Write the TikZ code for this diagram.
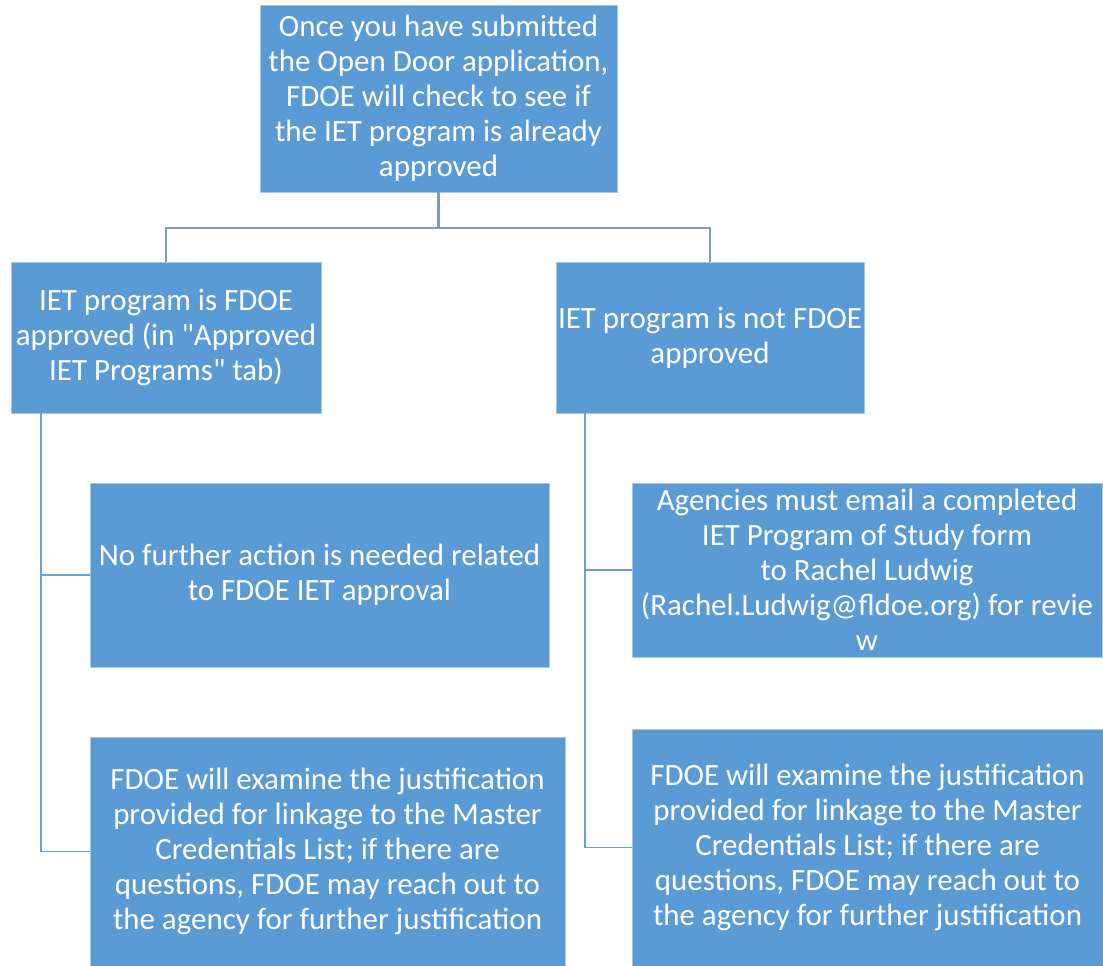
\documentclass[tikz,border=0pt]{standalone}
\usepackage{fontspec}
\setmainfont{Carlito}[Ligatures=TeXOff]
\definecolor{boxblue}{HTML}{5B9BD5}
\definecolor{treeline}{HTML}{7A9CC0}
\definecolor{sideline}{HTML}{6A9FD6}
\begin{document}
\begin{tikzpicture}
    [%%%%%%%%%%%%%%%%%%%%%%%%%%%%%%
        x=0.02cm, y=-0.02cm,
        box/.style={rectangle, fill=boxblue, draw=boxblue!55!white, line width=0.5pt,
            text=white, align=center, inner sep=0pt,
            font=\fontsize{17.6}{19.9}\selectfont},
        tree/.style={draw=treeline, line width=1.3pt},
        side/.style={draw=sideline, line width=1.1pt},
    ]%%%%%%%%%%%%%%%%%%%%%%%%%%%%%%
\useasboundingbox (0,0) rectangle (1103,966);
% top box
\node[box, minimum width=7.14cm, minimum height=3.74cm] (start) at (438.5,98.5)
    {Once you have submitted\\the Open Door application,\\FDOE will check to see if\\the IET program is already\\approved};
% second row
\node[box, minimum width=6.20cm, minimum height=3.02cm] (approved) at (166,337.5)
    {IET program is FDOE\\approved (in "Approved\\IET Programs" tab)};
\node[box, minimum width=6.16cm, minimum height=3.02cm] (notapproved) at (710,337.5)
    {IET program is not FDOE\\approved};
% left column
\node[box, minimum width=9.18cm, minimum height=3.68cm] (noaction) at (319.5,575)
    {No further action is needed related\\to FDOE IET approval};
\node[box, minimum width=9.50cm, minimum height=4.58cm] (examleft) at (327.5,851.5)
    {FDOE will examine the justification\\provided for linkage to the Master\\Credentials List; if there are\\questions, FDOE may reach out to\\the agency for further justification};
% right column
\node[box, minimum width=9.40cm, minimum height=3.48cm] (email) at (867,570)
    {Agencies must email a completed\\IET Program of Study form\\to Rachel Ludwig\\(Rachel.Ludwig@fldoe.org) for revie\\w};
\node[box, minimum width=9.42cm, minimum height=4.74cm] (examright) at (867.5,847.5)
    {FDOE will examine the justification\\provided for linkage to the Master\\Credentials List; if there are\\questions, FDOE may reach out to\\the agency for further justification};
% connectors
\coordinate (split) at (438.5,228);
\coordinate (lefttrunk) at (41,413);
\coordinate (righttrunk) at (585,413);
\draw[tree] (start.south) -- (split);
\draw[tree] (approved.north) |- (split) -| (notapproved.north);
\draw[side] (lefttrunk) |- (noaction.west);
\draw[side] (lefttrunk) |- (examleft.west);
\draw[side] (righttrunk) |- (email.west);
\draw[side] (righttrunk) |- (examright.west);
\end{tikzpicture}
\end{document}
